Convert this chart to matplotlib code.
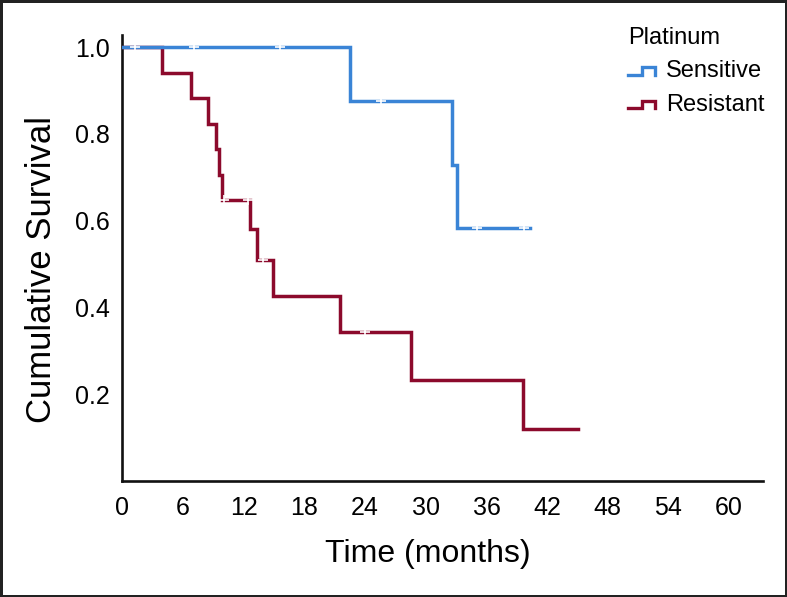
import numpy as np
import matplotlib
matplotlib.use("Agg")
import matplotlib.pyplot as plt
from matplotlib.lines import Line2D
from matplotlib.legend_handler import HandlerBase

# Kaplan-Meier steps (months, cumulative survival)
sens_times = [0, 22.5, 32.6, 33.1]
sens_surv = [1.0, 0.875, 0.729, 0.583]
sens_end = 40.3
sens_cens_t = [1.2, 7.1, 15.6, 25.6, 35.1, 39.7]

res_times = [0, 3.9, 6.8, 8.5, 9.2, 9.5, 9.8, 12.6, 13.3, 14.9, 21.5, 28.5, 39.6]
res_surv = [1.0, 0.941, 0.882, 0.824, 0.765, 0.706, 0.647, 0.58, 0.51, 0.427,
            0.343, 0.233, 0.12]
res_end = 45.1
res_cens_t = [10.0, 12.4, 13.9, 24.0]

xticks = [0, 6, 12, 18, 24, 30, 36, 42, 48, 54, 60]
yticks = [0.2, 0.4, 0.6, 0.8, 1.0]

blue = "#3a84d6"
red = "#8c0a2c"


def surv_at(times, surv, t):
    idx = np.searchsorted(times, t, side="right") - 1
    return surv[idx]


class StepHandler(HandlerBase):
    def create_artists(self, legend, orig_handle, xdescent, ydescent,
                       width, height, fontsize, trans):
        lo = -ydescent + height * 0.15
        hi = -ydescent + height * 0.6
        xs = np.array([0, 0.5, 0.5, 1.0, 1.0]) * width - xdescent
        ys = [lo, lo, hi, hi, lo]
        ln = Line2D(xs, ys, color=orig_handle.get_color(), lw=2.4,
                    solid_joinstyle="miter", transform=trans)
        return [ln]


fig = plt.figure(figsize=(7.87, 5.97), dpi=100, linewidth=2.5, edgecolor="#222222")
ax = fig.add_axes([122.5 / 787, 1 - 481 / 597, (763 - 122.5) / 787, (481 - 35) / 597])

groups = [
    ("Sensitive", sens_times, sens_surv, sens_end, sens_cens_t, blue, 4),
    ("Resistant", res_times, res_surv, res_end, res_cens_t, red, 3),
]
handles = []
for name, t, s, end, ct, col, z in groups:
    xs = list(t) + [end]
    ys = list(s) + [s[-1]]
    h, = ax.step(xs, ys, where="post", color=col, lw=2.5, label=name,
                 solid_joinstyle="miter", zorder=z)
    handles.append(h)
    cy = [surv_at(t, s, c) for c in ct]
    ax.plot(ct, cy, linestyle="none", marker="+", color="white", ms=7,
            mew=1.2, zorder=z + 0.5)

ax.set_xlim(0, 63.35)
ax.set_ylim(0, 1.028)
ax.set_xticks(xticks)
ax.set_yticks(yticks)
ax.set_yticklabels([f"{v:.1f}" for v in yticks])

for side in ["top", "right"]:
    ax.spines[side].set_visible(False)
for side in ["left", "bottom"]:
    ax.spines[side].set_linewidth(1.9)
    ax.spines[side].set_color("#111111")

font = ["Liberation Sans", "DejaVu Sans"]

ax.tick_params(axis="both", length=0)
ax.tick_params(axis="x", pad=11)
ax.tick_params(axis="y", pad=9)
for lab in ax.get_xticklabels():
    lab.set_fontfamily(font)
    lab.set_fontsize(18)
for lab in ax.get_yticklabels():
    lab.set_fontfamily(font)
    lab.set_fontsize(18)

ax.set_xlabel("Time (months)", fontsize=23, family=font)
ax.xaxis.set_label_coords(0.477, -0.13)
ax.set_ylabel("Cumulative Survival", fontsize=25, family=font)
ax.yaxis.set_label_coords(-0.1, 0.475)

leg = ax.legend(handles=handles, title="Platinum", loc="upper left",
                bbox_to_anchor=(628 / 787, 1 - 27 / 597),
                bbox_transform=fig.transFigure, frameon=False,
                handler_map={Line2D: StepHandler()},
                prop={"family": font, "size": 17},
                title_fontproperties={"family": font, "size": 17},
                alignment="left", handlelength=1.15, handletextpad=0.45,
                labelspacing=0.48, borderpad=0, borderaxespad=0)

fig.savefig("out.png", dpi=100)
